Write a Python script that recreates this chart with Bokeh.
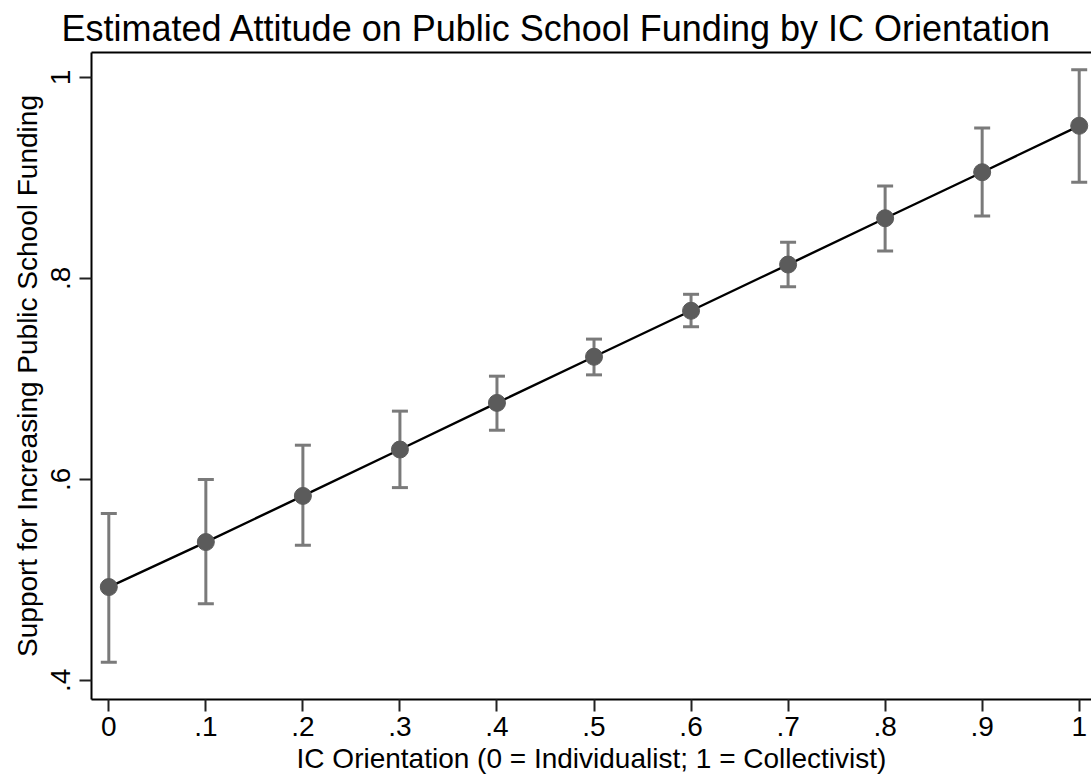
from bokeh.plotting import figure
from bokeh.models import (ColumnDataSource, Whisker, TeeHead, FixedTicker,
                          LinearAxis, Range1d)
from bokeh.embed import file_html
from bokeh.resources import INLINE

# Predicted support (with 95% CI) across the IC orientation scale
ic_orientation = [0.0, 0.1, 0.2, 0.3, 0.4, 0.5, 0.6, 0.7, 0.8, 0.9, 1.0]
support = [0.4928, 0.5376, 0.5835, 0.6297, 0.6761, 0.7220, 0.7678, 0.8138, 0.8599, 0.9057, 0.9519]
ci_upper = [0.5659, 0.5998, 0.6340, 0.6679, 0.7027, 0.7396, 0.7842, 0.8360, 0.8921, 0.9496, 1.0077]
ci_lower = [0.4180, 0.4762, 0.5343, 0.5918, 0.6489, 0.7040, 0.7519, 0.7917, 0.8273, 0.8622, 0.8958]

x_ticks = [0.0, 0.1, 0.2, 0.3, 0.4, 0.5, 0.6, 0.7, 0.8, 0.9, 1.0]
x_tick_labels = ["0", ".1", ".2", ".3", ".4", ".5", ".6", ".7", ".8", ".9", "1"]
y_ticks = [0.4, 0.6, 0.8, 1.0]
y_tick_labels = [".4", ".6", ".8", "1"]

FONT = "Liberation Sans"

src = ColumnDataSource(dict(x=ic_orientation, y=support, upper=ci_upper, lower=ci_lower))

p = figure(width=1091, height=778, output_backend="svg", toolbar_location=None,
           x_range=Range1d(-0.01783, 1.01267), y_range=Range1d(0.38089, 1.02486),
           min_border_left=91, min_border_right=0, min_border_top=52, min_border_bottom=79,
           x_axis_label="IC Orientation (0 = Individualist; 1 = Collectivist)",
           y_axis_label="Support for Increasing Public School Funding")

p.title.text = "Estimated Attitude on Public School Funding by IC Orientation"
p.title.text_font = FONT
p.title.text_font_size = "36px"
p.title.text_font_style = "normal"
p.title.text_color = "black"
p.title.align = "left"
p.title.offset = -30
p.title.standoff = 7

p.grid.visible = False
p.outline_line_color = None
p.background_fill_color = "white"
p.border_fill_color = "white"

# Axes
for ax in p.axis:
    ax.axis_line_width = 2
    ax.axis_line_color = "black"
    ax.major_tick_line_width = 2
    ax.major_tick_line_color = "#222222"
    ax.major_tick_out = 12
    ax.major_tick_in = 0
    ax.minor_tick_line_color = None
    ax.major_label_text_font = FONT
    ax.major_label_text_font_size = "28px"
    ax.major_label_text_color = "black"
    ax.axis_label_text_font = FONT
    ax.axis_label_text_font_size = "28px"
    ax.axis_label_text_font_style = "normal"
    ax.axis_label_text_color = "black"

p.xaxis.ticker = FixedTicker(ticks=x_ticks)
p.xaxis.major_label_overrides = dict(zip(x_ticks, x_tick_labels))
p.xaxis.major_label_standoff = 5
p.xaxis.axis_label_standoff = 4

p.yaxis.ticker = FixedTicker(ticks=y_ticks)
p.yaxis.major_label_overrides = dict(zip(y_ticks, y_tick_labels))
p.yaxis.major_label_orientation = "vertical"
p.yaxis.major_label_standoff = 9
p.yaxis.axis_label_standoff = 6

# Top frame line
top = LinearAxis(ticker=FixedTicker(ticks=[]), axis_line_width=2, axis_line_color="black",
                 major_tick_line_color=None, minor_tick_line_color=None,
                 major_label_text_font_size="0px")
p.add_layout(top, "above")

# Confidence intervals
p.add_layout(Whisker(source=src, base="x", upper="upper", lower="lower",
                     line_color="#7a7a7a", line_width=3,
                     upper_head=TeeHead(size=16, line_color="#7a7a7a", line_width=3),
                     lower_head=TeeHead(size=16, line_color="#7a7a7a", line_width=3)))

# Connected estimates
p.line("x", "y", source=src, line_color="black", line_width=2.4)
p.scatter("x", "y", source=src, size=17, fill_color="#5b5b5b", line_color="#5b5b5b")

open("out.html", "w").write(file_html(p, INLINE))
